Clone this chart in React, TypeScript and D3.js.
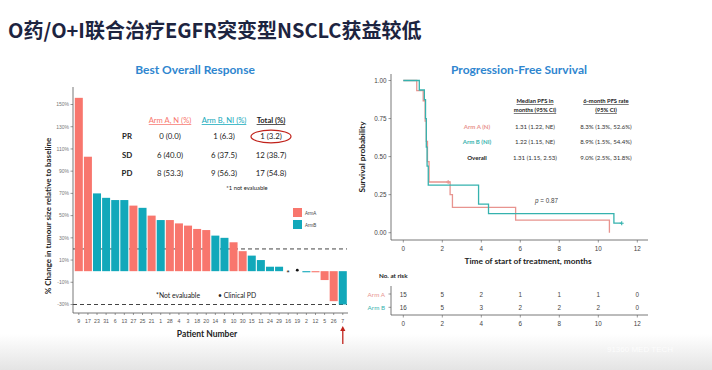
import React from 'react';
import * as d3 from 'd3';

// ---- waterfall data (best overall response) ----
const patients = ['9', '17', '23', '31', '6', '13', '27', '25', '21', '1', '28', '4', '3', '18', '20', '14', '8', '10', '30', '15', '11', '24', '29', '16', '19', '2', '12', '5', '26', '7'];
const patientArm = ['A', 'A', 'B', 'B', 'B', 'B', 'A', 'B', 'A', 'B', 'A', 'A', 'A', 'A', 'A', 'B', 'B', 'A', 'A', 'B', 'B', 'B', 'B', 'NE', 'CPD', 'B', 'A', 'A', 'A', 'B'];
const changePct = [156, 103, 70, 66, 64, 64, 59, 57, 50, 46, 46, 43, 41, 38, 37, 32, 30, 26, 18, 14, 10, 4, 4, 0, 0, -1, -1, -8, -27, -30];
const wfTicks = [-30, -10, 10, 30, 50, 70, 90, 110, 130, 150];
const refLines = [20, -30];

// response table
const respRows = ['PR', 'SD', 'PD'];
const respArmA = ['0 (0.0)', '6 (40.0)', '8 (53.3)'];
const respArmB = ['1 (6.3)', '6 (37.5)', '9 (56.3)'];
const respTotal = ['1 (3.2)', '12 (38.7)', '17 (54.8)'];

// ---- Kaplan-Meier data (PFS) ----
const armATimes = [0, 0.69, 1.02, 1.12, 1.18, 1.24, 1.32, 2.4, 2.52, 5.76, 10.57];
const armASurv = [1, 0.933, 0.867, 0.733, 0.6, 0.467, 0.333, 0.25, 0.167, 0.083, 0];
const armBTimes = [0, 0.82, 1.08, 1.14, 1.18, 1.22, 1.28, 3.86, 4.37, 10.8, 11.2];
const armBSurv = [1, 0.9375, 0.875, 0.75, 0.5625, 0.4375, 0.3125, 0.1875, 0.125, 0.0625, 0.0625];
const armACensor = [[2.3, 0.333]];
const armBCensor = [[11.2, 0.0625]];
const kmXTicks = [0, 2, 4, 6, 8, 10, 12];
const kmYTicks = [0, 0.25, 0.5, 0.75, 1];
const riskA = [15, 5, 2, 1, 1, 1, 0];
const riskB = [16, 5, 3, 2, 2, 2, 0];

const pfsRows = ['Arm A  (N)', 'Arm B (NI)', 'Overall'];
const pfsMedian = ['1.31 (1.22, NE)', '1.22 (1.15, NE)', '1.31 (1.15, 2.53)'];
const pfsRate = ['8.3% (1.3%, 52.6%)', '8.9% (1.5%, 54.4%)', '9.0% (2.5%, 31.8%)'];

const SALMON = '#F8766D';
const TEAL = '#12A8BA';
const KM_A = '#E8948F';
const KM_B = '#35B2AE';
const BLUE = '#2F86CF';

const sans = 'Lato, "Open Sans", sans-serif';
const arial = '"Liberation Sans", Arial, sans-serif';

export default function App() {
  // waterfall scales
  const x = d3.scaleBand<string>().domain(patients).range([74.8, 346.8]).paddingInner(0.12);
  const y = d3.scaleLinear().domain([-30, 150]).range([304.5, 104.5]);
  const y0 = y(0);
  const cx = (p: string) => x(p)! + x.bandwidth() / 2;

  // KM scales
  const kx = d3.scaleLinear().domain([0, 12]).range([403.3, 637.3]);
  const ky = d3.scaleLinear().domain([0, 1]).range([232.7, 80.5]);
  const step = d3.line<number[]>().x(d => kx(d[0])).y(d => ky(d[1])).curve(d3.curveStepAfter);
  const pathA = step(armATimes.map((t, i) => [t, armASurv[i]]));
  const pathB = step(armBTimes.map((t, i) => [t, armBSurv[i]]));

  const tableCols = [170, 224, 271];
  const tableRowsY = [139, 158, 176];
  const pfsRowsY = [129, 144, 160];

  return (
    <svg width={712} height={370} style={{ position: 'absolute', left: 0, top: 0, background: '#fff' }}>
      <defs>
        <linearGradient id="bottomFade" x1="0" y1="0" x2="0" y2="1">
          <stop offset="0" stopColor="#fff" />
          <stop offset="1" stopColor="#e4e4e4" />
        </linearGradient>
      </defs>
      <rect x={0} y={334} width={712} height={36} fill="url(#bottomFade)" />

      {/* main title */}
      <text x={8} y={38} fontFamily='"Noto Sans CJK SC", sans-serif' fontWeight={700} fontSize={20} fill="#1d2440">
        O药/O+I联合治疗EGFR突变型NSCLC获益较低
      </text>

      {/* ===== Best overall response ===== */}
      <text x={195} y={74} textAnchor="middle" fontFamily={sans} fontWeight={700} fontSize={12} fill={BLUE}>Best Overall Response</text>

      {/* reference lines */}
      {refLines.map(v => (
        <line key={v} x1={73} x2={347} y1={y(v)} y2={y(v)} stroke="#444" strokeWidth={1} strokeDasharray="4,3" />
      ))}

      {/* bars */}
      {patients.map((p, i) => {
        const arm = patientArm[i];
        const v = changePct[i];
        if (arm === 'NE') {
          return <text key={p} x={cx(p)} y={y0 + 4} textAnchor="middle" fontSize={8} fontFamily={arial} fill="#222">*</text>;
        }
        if (arm === 'CPD') {
          return <circle key={p} cx={cx(p)} cy={y0 - 1} r={1.4} fill="#111" />;
        }
        const top = Math.min(y(v), y0);
        const h = Math.max(Math.abs(y(v) - y0), 1);
        return <rect key={p} x={x(p)} y={top} width={x.bandwidth()} height={h} fill={arm === 'A' ? SALMON : TEAL} />;
      })}

      {/* axes */}
      <line x1={73} x2={73} y1={87} y2={313} stroke="#555" strokeWidth={0.8} />
      <line x1={73} x2={348} y1={313} y2={313} stroke="#555" strokeWidth={0.8} />
      {wfTicks.map(t => (
        <g key={t}>
          <line x1={70.5} x2={73} y1={y(t)} y2={y(t)} stroke="#555" strokeWidth={0.6} />
          <text x={69} y={y(t) + 1.8} textAnchor="end" fontSize={5} fontFamily={arial} fill="#777">{t}%</text>
        </g>
      ))}
      {patients.map(p => (
        <g key={p}>
          <line x1={cx(p)} x2={cx(p)} y1={313} y2={315} stroke="#555" strokeWidth={0.6} />
          <text x={cx(p)} y={323} textAnchor="middle" fontSize={5.2} fontFamily={arial} fill="#555">{p}</text>
        </g>
      ))}
      <text x={207} y={337} textAnchor="middle" fontFamily={sans} fontWeight={700} fontSize={8.5} fill="#222">Patient Number</text>
      <text transform="translate(51,216) rotate(-90)" textAnchor="middle" fontFamily={sans} fontWeight={700} fontSize={8} fill="#222">
        % Change in tumour size relative to baseline
      </text>

      {/* red arrow under patient 7 */}
      <line x1={cx('7')} x2={cx('7')} y1={344} y2={330} stroke="#c0221b" strokeWidth={1.3} />
      <path d={`M${cx('7') - 2.6},331 L${cx('7')},326 L${cx('7') + 2.6},331 Z`} fill="#c0221b" />

      {/* legend */}
      <rect x={293} y={208} width={9} height={9} fill={SALMON} />
      <rect x={293} y={220} width={9} height={9} fill={TEAL} />
      <text x={305} y={214.5} fontSize={4.5} fontFamily={arial} fill="#444">ArmA</text>
      <text x={305} y={226.5} fontSize={4.5} fontFamily={arial} fill="#444">ArmB</text>

      {/* response table */}
      <text x={tableCols[0]} y={123} textAnchor="middle" fontFamily={sans} fontSize={7.6} fill={SALMON} textDecoration="underline">Arm A, N (%)</text>
      <text x={tableCols[1]} y={123} textAnchor="middle" fontFamily={sans} fontSize={7.6} fill={TEAL} textDecoration="underline">Arm B, NI (%)</text>
      <text x={tableCols[2]} y={123} textAnchor="middle" fontFamily={sans} fontWeight={700} fontSize={7.6} fill="#222" textDecoration="underline">Total (%)</text>
      {respRows.map((r, i) => (
        <g key={r} fontFamily={sans} fontSize={7.8} fill="#222">
          <text x={127} y={tableRowsY[i]} textAnchor="middle" fontWeight={700}>{r}</text>
          <text x={tableCols[0]} y={tableRowsY[i]} textAnchor="middle">{respArmA[i]}</text>
          <text x={tableCols[1]} y={tableRowsY[i]} textAnchor="middle">{respArmB[i]}</text>
          <text x={tableCols[2]} y={tableRowsY[i]} textAnchor="middle">{respTotal[i]}</text>
        </g>
      ))}
      <ellipse cx={271} cy={136.5} rx={20} ry={6.3} fill="none" stroke="#c0221b" strokeWidth={1.2} />
      <text x={247} y={190} textAnchor="middle" fontFamily={sans} fontSize={5.8} fill="#222">*1 not evaluable</text>
      <text x={156} y={298} fontFamily={sans} fontSize={6.8} fill="#222">*Not evaluable</text>
      <text x={218} y={298} fontFamily={sans} fontSize={6.8} fill="#222">• Clinical PD</text>

      {/* ===== Progression-free survival ===== */}
      <text x={519} y={74} textAnchor="middle" fontFamily={sans} fontWeight={700} fontSize={12} fill={BLUE}>Progression-Free Survival</text>

      <line x1={391} x2={391} y1={74} y2={240} stroke="#555" strokeWidth={0.8} />
      <line x1={391} x2={648} y1={240} y2={240} stroke="#555" strokeWidth={0.8} />
      {kmYTicks.map(t => (
        <g key={t}>
          <line x1={388.5} x2={391} y1={ky(t)} y2={ky(t)} stroke="#555" strokeWidth={0.6} />
          <text x={386.5} y={ky(t) + 2.3} textAnchor="end" fontSize={6.3} fontFamily={arial} fill="#444">{t.toFixed(2)}</text>
        </g>
      ))}
      {kmXTicks.map(t => (
        <g key={t}>
          <line x1={kx(t)} x2={kx(t)} y1={240} y2={242.5} stroke="#555" strokeWidth={0.6} />
          <text x={kx(t)} y={251} textAnchor="middle" fontSize={6.3} fontFamily={arial} fill="#444">{t}</text>
        </g>
      ))}
      <text x={528} y={264} textAnchor="middle" fontFamily={sans} fontWeight={700} fontSize={8.3} fill="#222">Time of start of treatment, months</text>
      <text transform="translate(365,157) rotate(-90)" textAnchor="middle" fontFamily={sans} fontWeight={700} fontSize={8.3} fill="#222">Survival probability</text>

      <path d={pathA ?? ''} fill="none" stroke={KM_A} strokeWidth={1.3} />
      <path d={pathB ?? ''} fill="none" stroke={KM_B} strokeWidth={1.3} />
      {armACensor.map(([t, s], i) => (
        <path key={`ca${i}`} d={`M${kx(t) - 2},${ky(s)} h4 M${kx(t)},${ky(s) - 2} v4`} stroke={KM_A} strokeWidth={1} />
      ))}
      {armBCensor.map(([t, s], i) => (
        <path key={`cb${i}`} d={`M${kx(t) - 2},${ky(s)} h4 M${kx(t)},${ky(s) - 2} v4`} stroke={KM_B} strokeWidth={1.1} />
      ))}
      <text x={535} y={203} fontFamily={arial} fontSize={6.3} fill="#444"><tspan fontStyle="italic">p</tspan> = 0.87</text>

      {/* PFS table */}
      <g fontFamily={sans} fontWeight={700} fontSize={5.8} fill="#222" textDecoration="underline" textAnchor="middle">
        <text x={535} y={103}>Median PFS in</text>
        <text x={535} y={112}>months (95% CI)</text>
        <text x={606} y={103}>6-month PFS rate</text>
        <text x={606} y={112}>(95% CI)</text>
      </g>
      {pfsRows.map((r, i) => (
        <g key={r} fontFamily={sans} fontSize={6.1} textAnchor="middle">
          <text x={477} y={pfsRowsY[i]} fontWeight={700} fill={i === 0 ? KM_A : i === 1 ? KM_B : '#222'}>{r}</text>
          <text x={535} y={pfsRowsY[i]} fill="#333">{pfsMedian[i]}</text>
          <text x={606} y={pfsRowsY[i]} fill="#333">{pfsRate[i]}</text>
        </g>
      ))}

      {/* risk table */}
      <text x={379} y={278} fontFamily={sans} fontWeight={700} fontSize={6.3} fill="#222">No. at risk</text>
      <text x={385} y={296.5} textAnchor="end" fontFamily={sans} fontSize={6.3} fill={KM_A}>Arm A</text>
      <text x={385} y={309.5} textAnchor="end" fontFamily={sans} fontSize={6.3} fill={KM_B}>Arm B</text>
      <line x1={391} x2={391} y1={286} y2={315} stroke="#555" strokeWidth={0.8} />
      <line x1={388.5} x2={391} y1={294} y2={294} stroke="#555" strokeWidth={0.6} />
      <line x1={388.5} x2={391} y1={307.3} y2={307.3} stroke="#555" strokeWidth={0.6} />
      <line x1={391} x2={648} y1={315} y2={315} stroke="#555" strokeWidth={0.8} />
      {kmXTicks.map((t, i) => (
        <g key={t} fontFamily={arial} fontSize={6.3} fill="#444" textAnchor="middle">
          <text x={kx(t)} y={296.5}>{riskA[i]}</text>
          <text x={kx(t)} y={309.8}>{riskB[i]}</text>
          <line x1={kx(t)} x2={kx(t)} y1={315} y2={317.5} stroke="#555" strokeWidth={0.6} />
          <text x={kx(t)} y={325.5}>{t}</text>
        </g>
      ))}

      {/* watermark */}
      <text x={640} y={352} textAnchor="middle" fontFamily={arial} fontSize={8} fill="#fff" opacity={0.8}>91360 MED TECH</text>
    </svg>
  );
}
